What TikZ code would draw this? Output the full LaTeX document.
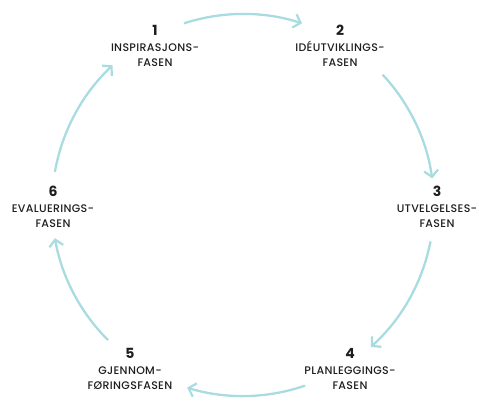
\documentclass[tikz,border=0pt]{standalone}
\usepackage{fontspec}
\setmainfont{Poppins}
\newfontfamily\labelfont{Poppins Medium}[LetterSpace=3]
\usetikzlibrary{arrows.meta}
\definecolor{cyc}{HTML}{A9DCE0}
\definecolor{ink}{HTML}{1E1E1E}
\begin{document}
\begin{tikzpicture}[x=1pt,y=1pt,
  cycarrow/.style={draw=cyc,line width=2.3pt,-{Straight Barb[length=6.5pt,width=14pt,line width=2.2pt]}},
  phase/.style={align=center,text=ink,inner sep=0pt,font=\labelfont\fontsize{11}{15.5}\selectfont}]
\newcommand\phnum[1]{{\fontsize{14}{15.5}\selectfont\rmfamily\bfseries #1}}
\useasboundingbox (0,0) rectangle (479,-401);
\coordinate (c) at (243,-205);
\def\R{191pt}
% phase labels
\node[phase] (p1) at (155,-46) {\phnum{1}\\INSPIRASJONS-\\FASEN};
\node[phase] (p2) at (340,-46) {\phnum{2}\\IDÉUTVIKLINGS-\\FASEN};
\node[phase] (p3) at (437,-207) {\phnum{3}\\UTVELGELSES-\\FASEN};
\node[phase] (p4) at (350,-369) {\phnum{4}\\PLANLEGGINGS-\\FASEN};
\node[phase] (p5) at (130,-369) {\phnum{5}\\GJENNOM-\\FØRINGSFASEN};
\node[phase] (p6) at (53,-207) {\phnum{6}\\EVALUERINGS-\\FASEN};
% arc end points
\path (c) ++(108:\R) coordinate (a1);
\path (c) ++(43:\R) coordinate (a2);
\path (c) ++(-11:\R) coordinate (a3);
\path (c) ++(-71:\R) coordinate (a4);
\path (c) ++(-135:\R) coordinate (a5);
\path (c) ++(170:\R) coordinate (a6);
% arrows
\draw[cycarrow] (a1) arc[start angle=108,end angle=72,radius=\R];
\draw[cycarrow] (a2) arc[start angle=43,end angle=8,radius=\R];
\draw[cycarrow] (a3) arc[start angle=-11,end angle=-48,radius=\R];
\draw[cycarrow] (a4) arc[start angle=-71,end angle=-107,radius=\R];
\draw[cycarrow] (a5) arc[start angle=-135,end angle=-170,radius=\R];
\draw[cycarrow] (a6) arc[start angle=170,end angle=133,radius=\R];
\end{tikzpicture}
\end{document}
